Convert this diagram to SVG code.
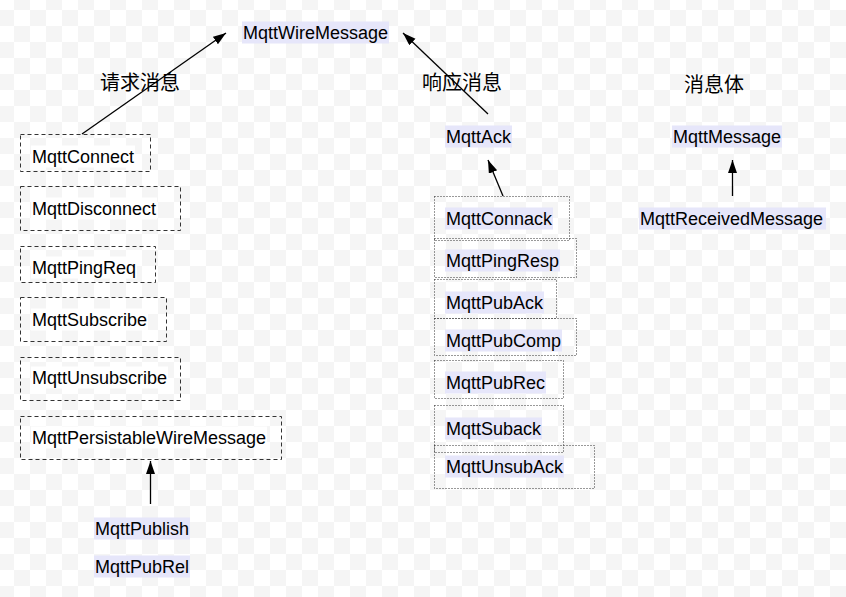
<svg xmlns="http://www.w3.org/2000/svg" width="846" height="597" viewBox="0 0 846 597">
<style>
.t{font-family:"Liberation Sans",Arial,sans-serif;font-size:18px;fill:#000}
.cj{font-family:"Noto Sans CJK SC","Noto Sans",sans-serif;font-size:20px;fill:#000}
.hl{fill:#e6e6fa}
.wb{fill:#fff}
.dash{fill:none;stroke:#333;stroke-width:1;stroke-dasharray:4 3}
.dot{fill:none;stroke:#333;stroke-width:1;stroke-dasharray:1 2}
.arr{stroke:#000;stroke-width:1.3;fill:none;marker-end:url(#ah)}
</style>
<defs>
<pattern id="chk" x="-2" y="-6" width="32" height="32" patternUnits="userSpaceOnUse">
<rect width="32" height="32" fill="#fff"/>
<rect x="16" y="0" width="16" height="16" fill="#f5f5f5"/>
<rect x="0" y="16" width="16" height="16" fill="#f5f5f5"/>
</pattern>
<marker id="ah" markerUnits="userSpaceOnUse" markerWidth="14" markerHeight="10" refX="13" refY="4.5" orient="auto">
<path d="M0,0 L13,4.5 L0,9 z" fill="#000"/>
</marker>
</defs>
<rect width="846" height="597" fill="url(#chk)"/>

<g id="labels">
<text class="cj" x="100" y="90">请求消息</text>
<text class="cj" x="422" y="90">响应消息</text>
<text class="cj" x="684" y="92">消息体</text>
</g>

<g id="connectors">
<line class="arr" x1="82" y1="134" x2="226" y2="33"/>
<line class="arr" x1="488" y1="114" x2="403" y2="33"/>
<line class="arr" x1="503" y1="196" x2="488" y2="160"/>
<line class="arr" x1="732.5" y1="196" x2="732.5" y2="160"/>
<line class="arr" x1="150.5" y1="504" x2="150.5" y2="461"/>
</g>

<g id="MqttWireMessage"><rect class="hl" x="242" y="21.5" width="147" height="22"/><text class="t" x="243" y="39">MqttWireMessage</text></g>

<g id="MqttConnect"><rect class="dash" x="20.5" y="134.5" width="130" height="37"/><rect class="wb" x="31" y="145.5" width="104" height="22"/><text class="t" x="32" y="163">MqttConnect</text></g>
<g id="MqttDisconnect"><rect class="dash" x="20.5" y="186.5" width="160" height="44"/><rect class="wb" x="31" y="197.5" width="126" height="22"/><text class="t" x="32" y="215">MqttDisconnect</text></g>
<g id="MqttPingReq"><rect class="dash" x="20.5" y="246.5" width="135" height="36"/><rect class="wb" x="31" y="256.5" width="106" height="22"/><text class="t" x="32" y="274">MqttPingReq</text></g>
<g id="MqttSubscribe"><rect class="dash" x="20.5" y="297.5" width="146" height="44"/><rect class="wb" x="31" y="308.5" width="117" height="22"/><text class="t" x="32" y="326">MqttSubscribe</text></g>
<g id="MqttUnsubscribe"><rect class="dash" x="20.5" y="357.5" width="160" height="43"/><rect class="wb" x="31" y="366.5" width="137" height="22"/><text class="t" x="32" y="384">MqttUnsubscribe</text></g>
<g id="MqttPersistableWireMessage"><rect class="dash" x="20.5" y="416.5" width="261" height="43"/><rect class="wb" x="31" y="426.5" width="236" height="22"/><text class="t" x="32" y="444">MqttPersistableWireMessage</text></g>

<g id="MqttPublish"><rect class="hl" x="94" y="517.5" width="96" height="22"/><text class="t" x="95" y="535">MqttPublish</text></g>
<g id="MqttPubRel"><rect class="hl" x="94" y="555.5" width="96" height="22"/><text class="t" x="95" y="573">MqttPubRel</text></g>

<g id="MqttAck"><rect class="hl" x="445" y="125.5" width="67" height="22"/><text class="t" x="446" y="143">MqttAck</text></g>

<g id="MqttConnack"><rect class="dot" x="434.5" y="196.5" width="135" height="44"/><rect class="hl" x="445" y="207.5" width="108" height="22"/><text class="t" x="446" y="225">MqttConnack</text></g>
<g id="MqttPingResp"><rect class="dot" x="434.5" y="238.5" width="142" height="39"/><rect class="hl" x="445" y="249.5" width="115" height="22"/><text class="t" x="446" y="267">MqttPingResp</text></g>
<g id="MqttPubAck"><rect class="dot" x="434.5" y="279.5" width="122" height="39"/><rect class="hl" x="445" y="291.5" width="99" height="22"/><text class="t" x="446" y="309">MqttPubAck</text></g>
<g id="MqttPubComp"><rect class="dot" x="434.5" y="318.5" width="142" height="37"/><rect class="hl" x="445" y="329.5" width="117" height="22"/><text class="t" x="446" y="347">MqttPubComp</text></g>
<g id="MqttPubRec"><rect class="dot" x="434.5" y="360.5" width="129" height="38"/><rect class="hl" x="445" y="371.5" width="101" height="22"/><text class="t" x="446" y="389">MqttPubRec</text></g>
<g id="MqttSuback"><rect class="dot" x="434.5" y="405.5" width="129" height="47"/><rect class="hl" x="445" y="417.5" width="97" height="22"/><text class="t" x="446" y="435">MqttSuback</text></g>
<g id="MqttUnsubAck"><rect class="dot" x="434.5" y="445.5" width="160" height="43"/><rect class="hl" x="445" y="455.5" width="119" height="22"/><text class="t" x="446" y="473">MqttUnsubAck</text></g>

<g id="MqttMessage"><rect class="hl" x="672" y="125.5" width="110" height="22"/><text class="t" x="673" y="143">MqttMessage</text></g>
<g id="MqttReceivedMessage"><rect class="hl" x="639" y="207.5" width="187" height="22"/><text class="t" x="640" y="225">MqttReceivedMessage</text></g>
</svg>
